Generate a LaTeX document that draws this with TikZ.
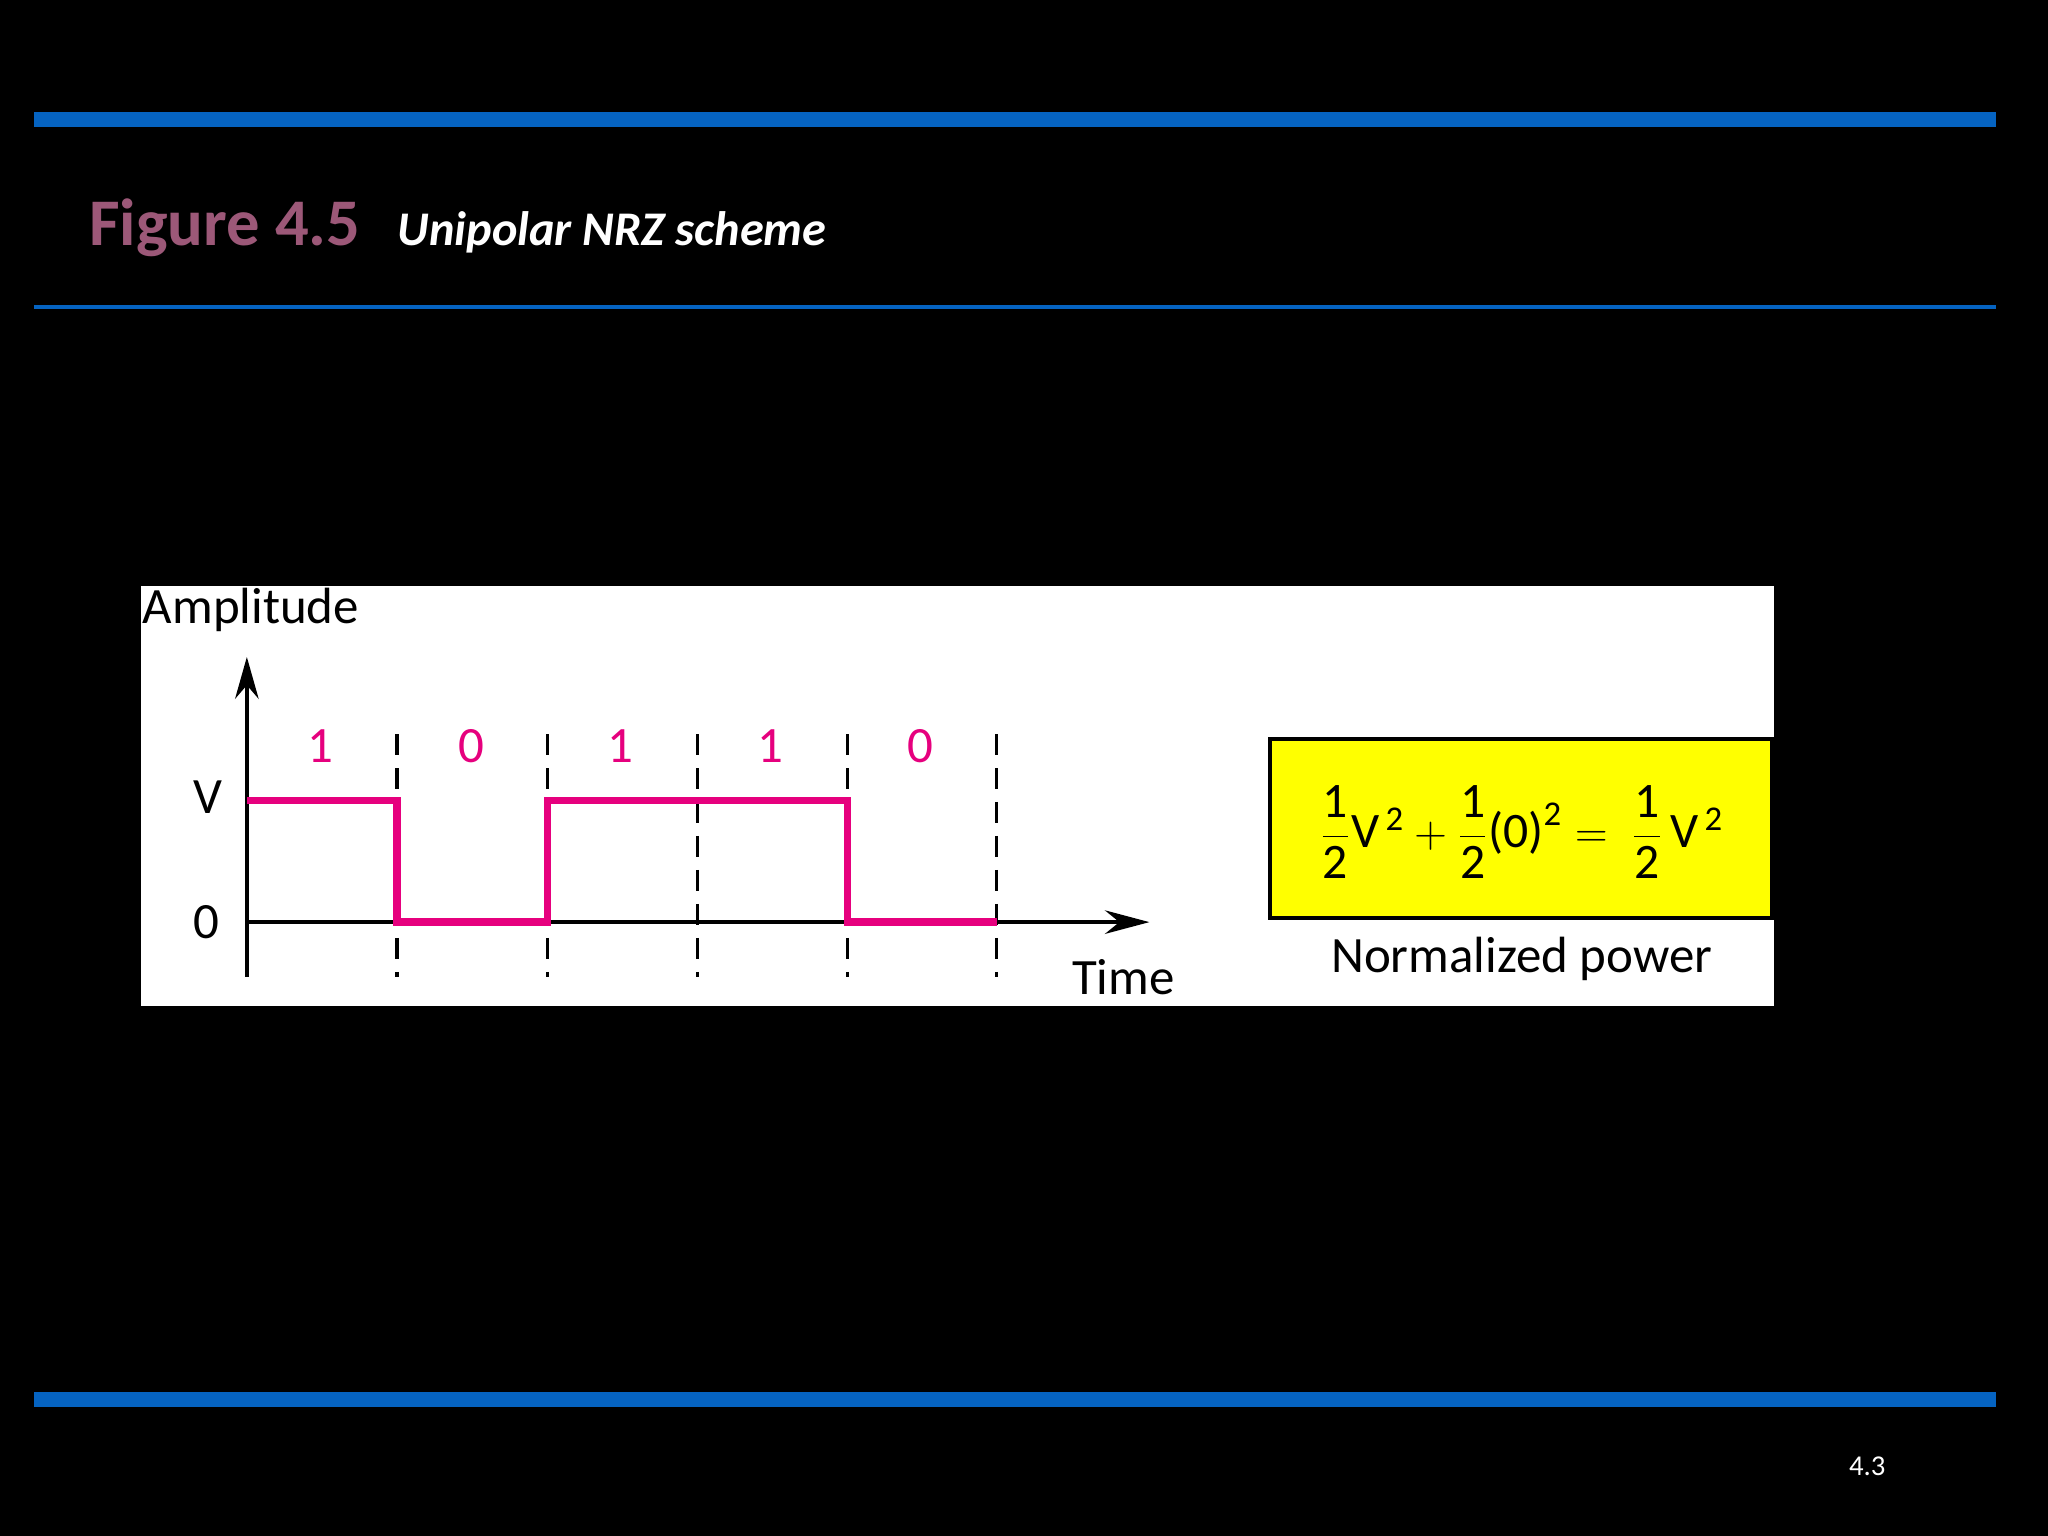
\documentclass[tikz,border=0pt]{standalone}
\usetikzlibrary{arrows.meta}
\usepackage{fontspec}
\setmainfont{Carlito}
\usepackage{amsmath}
\definecolor{barblue}{HTML}{0563C1}
\definecolor{mauve}{HTML}{9C5878}
\definecolor{sig}{HTML}{E6007E}
\definecolor{yel}{HTML}{FFFF00}
\tikzset{lbl/.style={font=\fontsize{19.5}{22}\selectfont,inner sep=0pt},
 bit/.style={lbl,text=sig},
 dsh/.style={line width=1.2pt,dash pattern=on 8pt off 5pt}}
\begin{document}
\begin{tikzpicture}[x=0.5pt,y=-0.5pt]
\useasboundingbox[fill=black] (0,0) rectangle (1568,1176);
\fill[barblue] (26,86) rectangle (1528,97);
\fill[barblue] (26,233.5) rectangle (1528,236.5);
\fill[barblue] (26,1066) rectangle (1528,1077);
\node[anchor=base west,inner sep=0pt,text=mauve,font=\bfseries\fontsize{25.5}{28}\selectfont] (fig) at (68,188) {Figure 4.5};
\node[anchor=base west,inner sep=0pt,text=white,font=\bfseries\itshape\fontsize{18.5}{22}\selectfont] (sub) at (304,188) {Unipolar NRZ scheme};
\node[anchor=base east,inner sep=0pt,text=white,font=\fontsize{11}{13}\selectfont] (pg) at (1444,1130) {4.3};
\fill[white] (108,449) rectangle (1358,770);
\node[lbl,anchor=west] (amp) at (109,467) {Amplitude};
\coordinate (o) at (189,706);
\coordinate (yt) at (189,503);
\coordinate (yb) at (189,748);
\coordinate (xt) at (880,706);
\draw[line width=1.5pt,-{Stealth[length=16pt,width=9pt]}] (yb) -- (yt);
\draw[line width=1.5pt,-{Stealth[length=17pt,width=9pt]}] (o) -- (xt);
\foreach \x in {304,419,534,649,763}{\draw[dsh] (\x,562) -- (\x,748);}
\draw[sig,line width=2.8pt] (189,613) -- (304,613) -- (304,706) -- (419,706) -- (419,613) -- (649,613) -- (649,706) -- (763,706);
\node[bit] (b1) at (245,571) {1};
\node[bit] (b2) at (361,571) {0};
\node[bit] (b3) at (475,571) {1};
\node[bit] (b4) at (590,571) {1};
\node[bit] (b5) at (705,571) {0};
\node[lbl] (v) at (159,610) {V};
\node[lbl] (z) at (158,706) {0};
\node[lbl] (t) at (860,748) {Time};
\node[draw=black,line width=1.5pt,fill=yel,inner sep=0pt,minimum width=192.5pt,minimum height=68.5pt] (box) at (1164.5,634.5) {};
\node[lbl,font=\fontsize{19}{22}\selectfont] (f) at (1165,637) {$\dfrac{\text{1}}{\text{2}}\text{V}^{\,\text{2}}+\dfrac{\text{1}}{\text{2}}\text{(0)}^{\text{2}}=\ \dfrac{\text{1}}{\text{2}}\,\text{V}^{\,\text{2}}$};
\node[lbl] (np) at (1165,734) {Normalized power};
\end{tikzpicture}
\end{document}
